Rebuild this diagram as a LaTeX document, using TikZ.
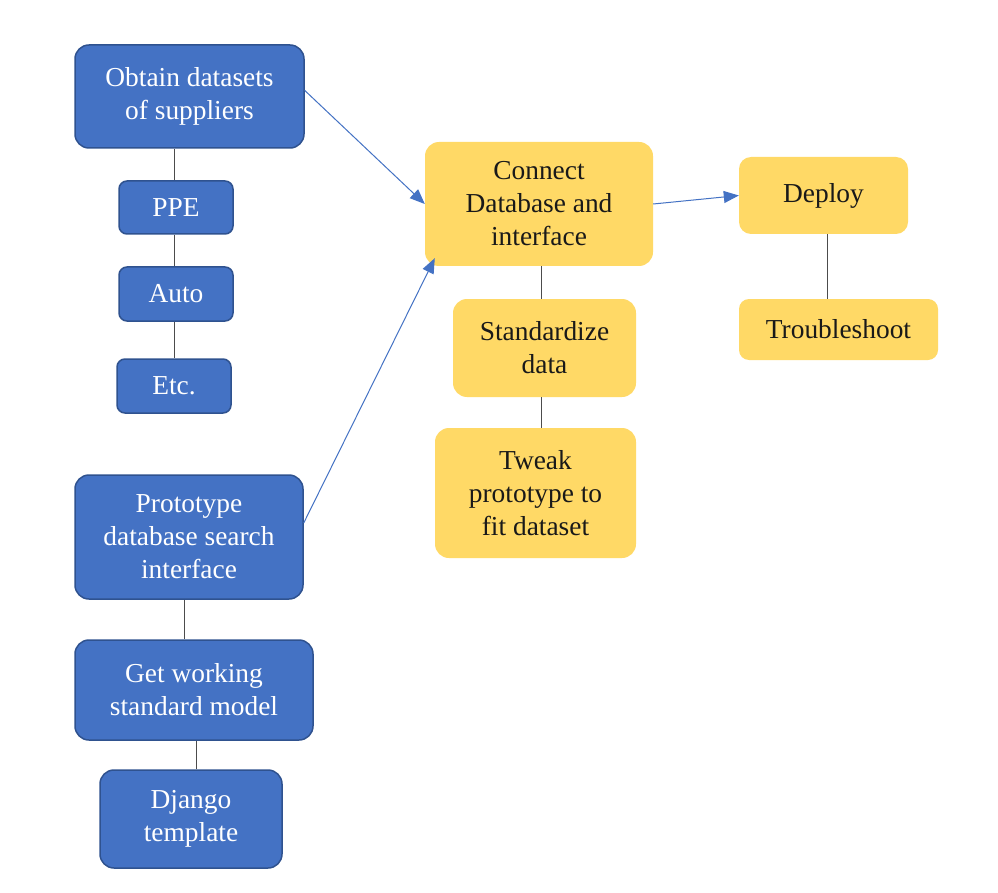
\documentclass[tikz,border=0pt]{standalone}
\usepackage{fontspec}
\setmainfont{Liberation Serif}
\usetikzlibrary{arrows.meta}
\definecolor{boxblue}{HTML}{4472C4}
\definecolor{edgeblue}{HTML}{2F528F}
\definecolor{boxyellow}{HTML}{FFD966}
\begin{document}
\begin{tikzpicture}[x=1pt,y=-1pt,
  box/.style={align=center,inner sep=0pt,rounded corners=14pt,font=\fontsize{27.4}{33}\selectfont},
  bluebox/.style={box,draw=edgeblue,line width=1.5pt,fill=boxblue,text=white},
  yellowbox/.style={box,fill=boxyellow,text=black!90},
  link/.style={draw=black!70,line width=1pt},
  flow/.style={draw=boxblue,line width=1pt,-{Triangle[length=15pt,width=12pt]}}]
\useasboundingbox[fill=white](0,0) rectangle (998,893);
% left column
\node (obtain) at (189.5,96.5) [bluebox][minimum width=229pt,minimum height=103pt]{Obtain datasets\\of suppliers};
\node (ppe) at (176,207.5) [bluebox][rounded corners=8pt][minimum width=114pt,minimum height=53pt]{PPE};
\node (auto) at (176,294) [bluebox][rounded corners=8pt][minimum width=114pt,minimum height=54pt]{Auto};
\node (etc) at (174,386) [bluebox][rounded corners=8pt][minimum width=114pt,minimum height=54pt]{Etc.};
\node (proto) at (189,537) [bluebox][minimum width=228pt,minimum height=124pt]{Prototype\\database search\\interface};
\node (model) at (194,690) [bluebox][minimum width=238pt,minimum height=100pt]{Get working\\standard model};
\node (django) at (191,819) [bluebox][minimum width=182pt,minimum height=98pt]{Django\\template};
% middle column
\node (connect) at (539,204) [yellowbox][minimum width=228pt,minimum height=124pt]{Connect\\Database and\\interface};
\node (standard) at (544.5,348) [yellowbox][minimum width=183pt,minimum height=98pt]{Standardize\\data};
\node (tweak) at (535.5,493) [yellowbox][minimum width=201pt,minimum height=130pt]{Tweak\\prototype to\\fit dataset};
% right column
\node (deploy) at (823.5,195.5) [yellowbox][rounded corners=12pt][minimum width=169pt,minimum height=77pt]{Deploy};
\node (trouble) at (838.5,329.5) [yellowbox][rounded corners=10pt][minimum width=199pt,minimum height=61pt]{Troubleshoot};
% plain links
\draw [link]([xshift=-2pt]ppe.north)--([xshift=-2pt]ppe.north |- obtain.south);
\draw [link]([xshift=-2pt]ppe.south)--([xshift=-2pt]ppe.south |- auto.north);
\draw [link]([xshift=-2pt]auto.south)--([xshift=-2pt]auto.south |- etc.north);
\draw [link]([xshift=-5pt]proto.south)--([xshift=-5pt]proto.south |- model.north);
\draw [link]([xshift=5pt]django.north)--([xshift=5pt]django.north |- model.south);
\draw [link]([xshift=2pt]connect.south)--([xshift=2pt]connect.south |- standard.north);
\draw [link]([xshift=-3pt]standard.south)--([xshift=-3pt]standard.south |- tweak.north);
\draw [link]([xshift=4pt]deploy.south)--([xshift=4pt]deploy.south |- trouble.north);
% arrows
\draw [flow](obtain.3)--(connect.west);
\draw [flow](proto.7)--([xshift=10pt,yshift=8pt]connect.south west);
\draw [flow](connect.east)--(deploy.west);
\end{tikzpicture}
\end{document}
